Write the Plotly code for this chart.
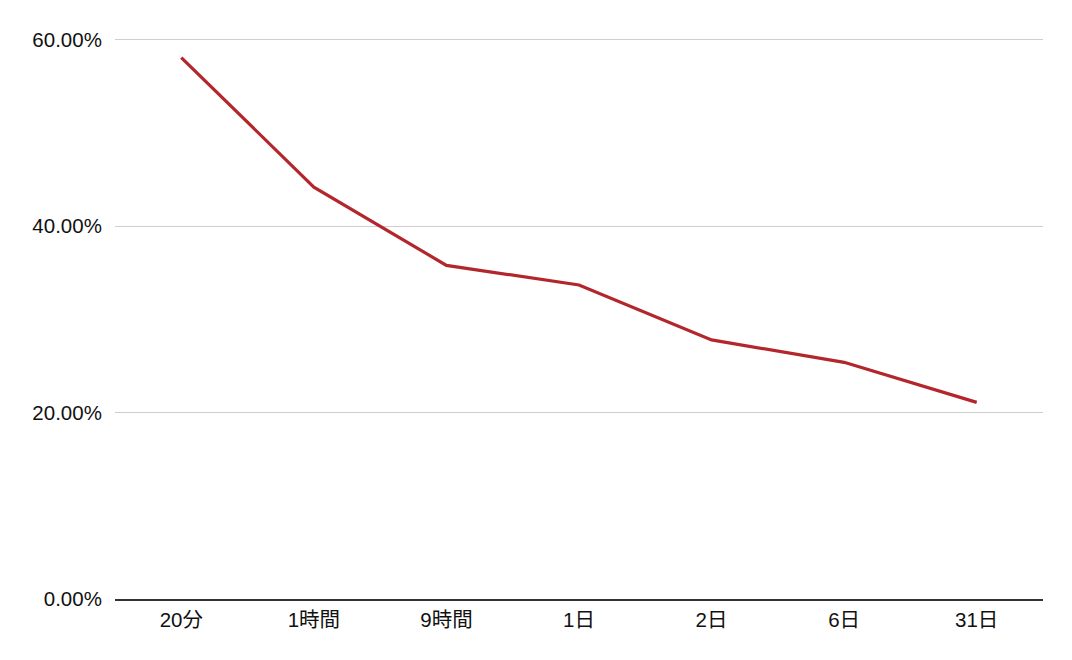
import plotly.graph_objects as go

categories = ["20分", "1時間", "9時間", "1日", "2日", "6日", "31日"]
retention = [0.581, 0.442, 0.358, 0.337, 0.278, 0.254, 0.211]
y_ticks = [0, 0.2, 0.4, 0.6]
y_tick_labels = ["0.00%", "20.00%", "40.00%", "60.00%"]

fig = go.Figure()
fig.add_trace(go.Scatter(
    x=categories, y=retention, mode="lines",
    line=dict(color="#b3262c", width=3.2),
    hoverinfo="skip",
))

font_family = "Liberation Sans, Arial, Noto Sans CJK JP, sans-serif"
fig.update_layout(
    width=1072, height=660,
    margin=dict(l=107, r=37, t=30, b=69),
    paper_bgcolor="white", plot_bgcolor="white",
    showlegend=False,
    font=dict(family=font_family, size=20.5, color="#111111"),
    xaxis=dict(
        type="category", range=[-0.5, 6.5],
        showgrid=False, zeroline=False,
        showline=True, linecolor="#333333", linewidth=1.5,
        ticks="outside", ticklen=2, tickcolor="rgba(0,0,0,0)",
    ),
    yaxis=dict(
        range=[0, 0.602], tickvals=y_ticks, ticktext=y_tick_labels,
        showgrid=True, gridcolor="#cfcfcf", gridwidth=1.3,
        zeroline=False, showline=False,
        ticks="outside", ticklen=8, tickcolor="rgba(0,0,0,0)",
    ),
)

fig.write_html("out.html")
